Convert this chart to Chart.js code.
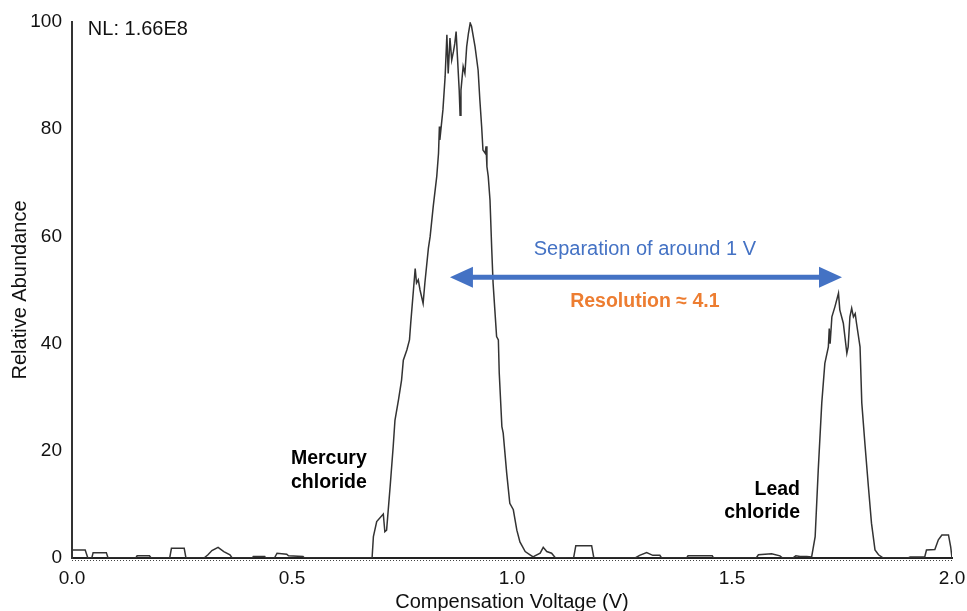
<!DOCTYPE html>
<html>
<head>
<meta charset="utf-8">
<script src="https://cdn.jsdelivr.net/npm/chart.js@4.4.1/dist/chart.umd.min.js"></script>
<style>
  html, body { margin: 0; padding: 0; background: #fff; }
  #wrap { width: 967px; height: 611px; position: relative; }
</style>
</head>
<body>
<div id="wrap"><canvas id="cvChart"></canvas></div>
<script>
// compensation voltage (V) and relative abundance (%)
const voltage = [
  0.000, 0.030, 0.036, 0.045, 0.048, 0.078, 0.082, 0.145, 0.148, 0.176,
  0.180, 0.222, 0.226, 0.255, 0.259, 0.300, 0.309, 0.318, 0.332, 0.345,
  0.359, 0.364, 0.410, 0.412, 0.438, 0.440, 0.460, 0.466, 0.488, 0.492,
  0.525, 0.528, 0.680,
  // mercury chloride peak
  0.682, 0.685, 0.6925, 0.7075, 0.711, 0.715, 0.723, 0.730, 0.734, 0.742,
  0.749, 0.753, 0.761, 0.767, 0.770, 0.776, 0.780, 0.783, 0.787, 0.791,
  0.798, 0.802, 0.810, 0.814, 0.821, 0.829, 0.833, 0.835, 0.836, 0.843,
  0.848, 0.852, 0.855, 0.859, 0.863, 0.867, 0.870, 0.873, 0.876, 0.880,
  0.882, 0.884, 0.889, 0.893, 0.897, 0.901, 0.905, 0.908, 0.916, 0.923,
  0.927, 0.931, 0.934, 0.939, 0.941, 0.943, 0.946, 0.950, 0.954, 0.957,
  0.961, 0.965, 0.969, 0.971, 0.977, 0.980, 0.988, 0.995, 1.003, 1.011,
  1.018, 1.030, 1.041, 1.048, 1.052, 1.064, 1.071, 1.079, 1.090, 1.098,
  1.140, 1.145, 1.181, 1.186, 1.280, 1.290, 1.306, 1.320, 1.336, 1.340,
  1.397, 1.400, 1.455, 1.458, 1.555, 1.560, 1.590, 1.609, 1.615, 1.638,
  1.645, 1.655, 1.670,
  // lead chloride peak
  1.681, 1.689, 1.696, 1.704, 1.711, 1.719, 1.721, 1.723, 1.727, 1.734,
  1.742, 1.745, 1.753, 1.761, 1.764, 1.768, 1.772, 1.776, 1.780, 1.783,
  1.791, 1.795, 1.802, 1.810, 1.817, 1.825, 1.833, 1.844, 1.900, 1.905,
  1.938, 1.942, 1.961, 1.969, 1.977, 1.992, 1.997, 2.000
];
const abundance = [
  1.5, 1.5, 0, 0, 1.0, 1.0, 0, 0, 0.4, 0.4,
  0, 0, 1.8, 1.8, 0, 0, 0.6, 1.4, 2.0, 1.2,
  0.6, 0, 0, 0.3, 0.3, 0, 0, 0.9, 0.7, 0.4,
  0.3, 0, 0,
  0, 4.0, 6.8, 8.2, 4.9, 5.2, 13.3, 20.8, 25.7, 29.5,
  33.2, 36.9, 38.8, 40.7, 44.0, 50.0, 54.0, 51.3, 51.9, 50.0,
  47.5, 51.3, 57.8, 60.0, 65.6, 71.2, 75.5, 80.5, 78.0, 83.6,
  89.8, 97.6, 90.4, 97.0, 92.9, 94.5, 96.0, 98.2, 93.5, 87.3,
  82.6, 87.3, 91.7, 90.4, 95.4, 97.9, 99.8, 99.2, 95.4, 91.0,
  85.4, 80.5, 76.1, 75.5, 76.8, 73.0, 71.2, 66.8, 57.5, 51.3,
  46.3, 41.3, 40.7, 34.5, 24.5, 23.3, 15.8, 10.2, 9.0, 5.2,
  3.0, 1.2, 0.6, 0.2, 0.4, 0.9, 2.0, 1.2, 0.9, 0.1,
  0, 2.3, 2.3, 0, 0, 0.5, 1.0, 0.5, 0.5, 0,
  0, 0.4, 0.4, 0, 0, 0.6, 0.8, 0.4, 0, 0,
  0.4, 0.3, 0.3,
  0.2, 4.0, 16.4, 28.9, 36.3, 39.4, 42.8, 40.0, 45.0, 46.9,
  49.4, 46.3, 43.8, 38.2, 39.4, 45.0, 46.6, 45.0, 45.6, 43.8,
  39.4, 28.9, 21.4, 13.3, 6.5, 1.5, 0.6, 0, 0, 0.2,
  0.2, 1.5, 1.6, 3.4, 4.3, 4.3, 2.1, 0
];
const xTicks = [0.0, 0.5, 1.0, 1.5, 2.0];
const yTicks = [0, 20, 40, 60, 80, 100];

const FONT = 'Arial, "Liberation Sans", sans-serif';

// text notes placed in data units (V, %)
const notes = [
  { text: 'NL: 1.66E8', x: 0.036, y: 98.6, align: 'left', color: '#111', bold: false, size: 20 },
  { text: 'Separation of around 1 V', x: 1.302, y: 57.6, align: 'center', color: '#4472C4', bold: false, size: 20 },
  { text: 'Resolution \u2248 4.1', x: 1.302, y: 47.9, align: 'center', color: '#ED7D31', bold: true, size: 19.5 },
  { text: 'Mercury', x: 0.670, y: 18.6, align: 'right', color: '#000', bold: true, size: 19.5 },
  { text: 'chloride', x: 0.670, y: 14.1, align: 'right', color: '#000', bold: true, size: 19.5 },
  { text: 'Lead', x: 1.6545, y: 12.8, align: 'right', color: '#000', bold: true, size: 19.5 },
  { text: 'chloride', x: 1.6545, y: 8.5, align: 'right', color: '#000', bold: true, size: 19.5 }
];
const arrow = { from: 0.859, to: 1.750, y: 52.4 };

const notesPlugin = {
  id: 'notes',
  afterDraw(chart) {
    const { ctx, scales: { x, y }, chartArea } = chart;
    ctx.save();
    // dotted minor ticks under the x axis
    ctx.strokeStyle = '#444';
    ctx.lineWidth = 1;
    ctx.setLineDash([1, 2]);
    ctx.beginPath();
    ctx.moveTo(chartArea.left, chartArea.bottom + 2.5);
    ctx.lineTo(chartArea.right, chartArea.bottom + 2.5);
    ctx.stroke();
    ctx.setLineDash([]);

    notes.forEach(n => {
      ctx.font = (n.bold ? 'bold ' : '') + n.size + 'px ' + FONT;
      ctx.fillStyle = n.color;
      ctx.textAlign = n.align;
      ctx.textBaseline = 'middle';
      ctx.fillText(n.text, x.getPixelForValue(n.x), y.getPixelForValue(n.y));
    });

    // double headed arrow
    const x1 = x.getPixelForValue(arrow.from);
    const x2 = x.getPixelForValue(arrow.to);
    const ay = y.getPixelForValue(arrow.y);
    const head = 23, half = 10.5;
    ctx.fillStyle = '#4472C4';
    ctx.strokeStyle = '#4472C4';
    ctx.lineWidth = 5;
    ctx.beginPath();
    ctx.moveTo(x1 + head - 2, ay);
    ctx.lineTo(x2 - head + 2, ay);
    ctx.stroke();
    ctx.beginPath();
    ctx.moveTo(x1, ay);
    ctx.lineTo(x1 + head, ay - half);
    ctx.lineTo(x1 + head, ay + half);
    ctx.closePath();
    ctx.fill();
    ctx.beginPath();
    ctx.moveTo(x2, ay);
    ctx.lineTo(x2 - head, ay - half);
    ctx.lineTo(x2 - head, ay + half);
    ctx.closePath();
    ctx.fill();
    ctx.restore();
  }
};

new Chart(document.getElementById('cvChart'), {
  type: 'scatter',
  data: {
    datasets: [{
      data: voltage.map((v, i) => ({ x: v, y: abundance[i] })),
      showLine: true,
      borderColor: '#333',
      borderWidth: 1.5,
      pointRadius: 0,
      tension: 0
    }]
  },
  options: {
    responsive: true,
    maintainAspectRatio: false,
    animation: false,
    layout: { padding: { top: 22, right: 15, left: 0, bottom: 0 } },
    plugins: { legend: { display: false }, tooltip: { enabled: false } },
    scales: {
      x: {
        type: 'linear',
        min: 0, max: 2,
        afterFit: s => { s.height = 53; s.paddingLeft = 0; s.paddingRight = 0; },
        afterBuildTicks: s => { s.ticks = xTicks.map(v => ({ value: v })); },
        grid: { display: false, drawTicks: false },
        border: { display: true, color: '#222', width: 2 },
        ticks: {
          padding: 9,
          color: '#111',
          font: { family: FONT, size: 19 },
          callback: v => Number(v).toFixed(1)
        },
        title: {
          display: true,
          text: 'Compensation Voltage (V)',
          color: '#111',
          font: { family: FONT, size: 20 },
          padding: { top: 0, bottom: -3 }
        }
      },
      y: {
        min: 0, max: 100,
        afterFit: s => { s.width = 72; },
        afterBuildTicks: s => { s.ticks = yTicks.map(v => ({ value: v })); },
        grid: { display: false, drawTicks: false },
        border: { display: true, color: '#333', width: 2 },
        ticks: {
          padding: 10,
          color: '#111',
          font: { family: FONT, size: 19 }
        },
        title: {
          display: true,
          text: 'Relative Abundance',
          color: '#111',
          font: { family: FONT, size: 20 },
          padding: { top: 8, bottom: 0 }
        }
      }
    }
  },
  plugins: [notesPlugin]
});
</script>
</body>
</html>
